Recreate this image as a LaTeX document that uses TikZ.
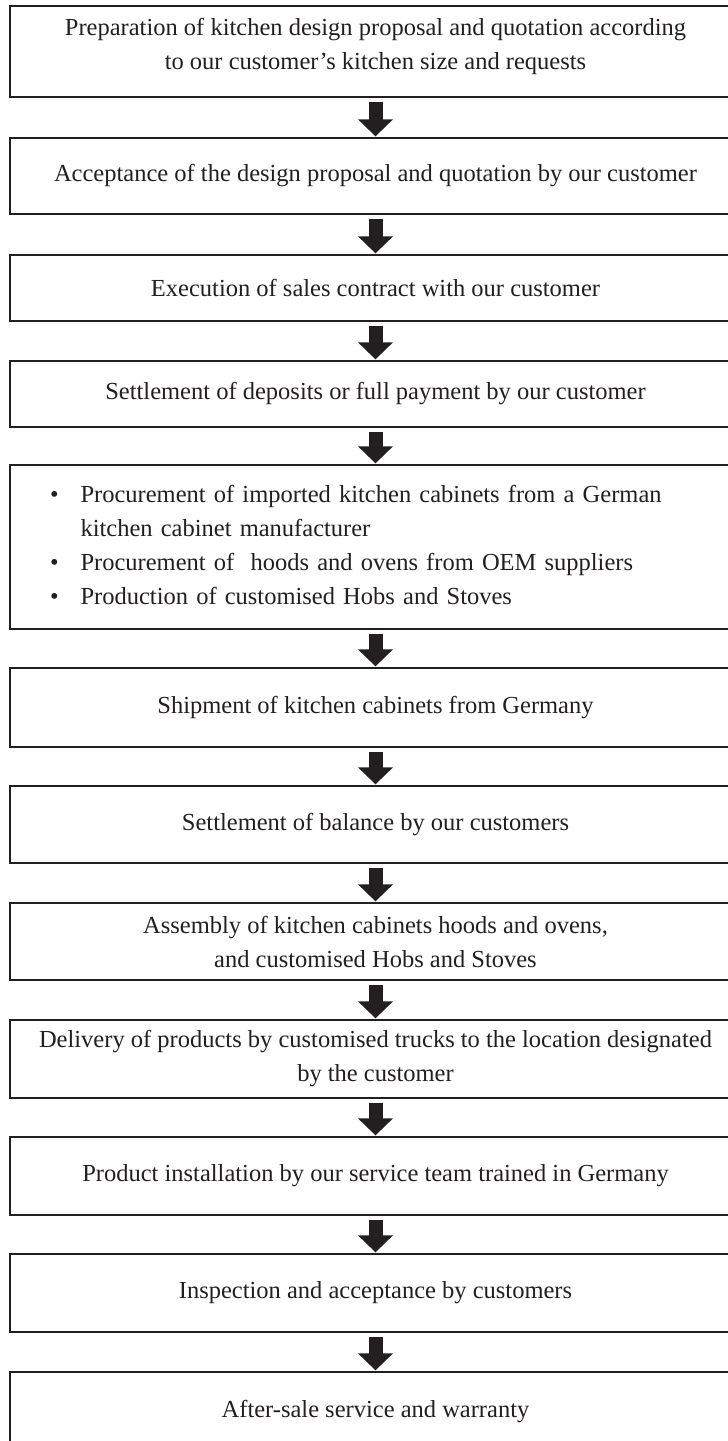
\documentclass[tikz,border=0pt]{standalone}
\usepackage{fontspec}
\setmainfont{Liberation Serif}
\usetikzlibrary{arrows.meta}
\definecolor{ink}{HTML}{231F20}

\tikzset{
  stepbox/.style={draw=ink, line width=1.3pt, rectangle, minimum width=731pt,
    inner sep=0pt, align=center, text=ink,
    font=\fontsize{24.5}{34}\selectfont},
  flowarrow/.style={draw=ink, line width=14pt,
    -{Triangle[width=34pt,length=17pt]}, shorten <=4pt, shorten >=1pt}
}

\begin{document}
\begin{tikzpicture}[x=1pt, y=-1pt]
  \useasboundingbox (0,0) rectangle (728,1441);

  \node[stepbox, minimum height=91pt, text depth=16pt] (b1) at (375.5,51.5)
    {Preparation of kitchen design proposal and quotation according\\
     to our customer's kitchen size and requests};
  \node[stepbox, minimum height=76pt] (b2) at (375.5,176)
    {Acceptance of the design proposal and quotation by our customer};
  \node[stepbox, minimum height=66pt] (b3) at (375.5,288)
    {Execution of sales contract with our customer};
  \node[stepbox, minimum height=66pt] (b4) at (375.5,394)
    {Settlement of deposits or full payment by our customer};
  \node[stepbox, minimum height=164pt, text width=651pt, align=left,
        inner xsep=40pt] (b5) at (375.5,547)
    {\begin{tabular}{@{}l@{\hspace{22pt}}l@{}}
       \textbullet & Procurement of imported kitchen cabinets from a German\\
                   & kitchen cabinet manufacturer\\
       \textbullet & Procurement of \ hoods and ovens from OEM suppliers\\
       \textbullet & Production of customised Hobs and Stoves
     \end{tabular}};
  \node[stepbox, minimum height=79pt] (b6) at (375.5,707.5)
    {Shipment of kitchen cabinets from Germany};
  \node[stepbox, minimum height=77pt] (b7) at (375.5,824.5)
    {Settlement of balance by our customers};
  \node[stepbox, minimum height=77pt] (b8) at (375.5,941.5)
    {Assembly of kitchen cabinets hoods and ovens,\\
     and customised Hobs and Stoves};
  \node[stepbox, minimum height=78pt] (b9) at (375.5,1059)
    {Delivery of products by customised trucks to the location designated\\
     by the customer};
  \node[stepbox, minimum height=78pt] (b10) at (375.5,1176)
    {Product installation by our service team trained in Germany};
  \node[stepbox, minimum height=78pt] (b11) at (375.5,1293)
    {Inspection and acceptance by customers};
  \node[stepbox, minimum height=78pt] (b12) at (375.5,1411)
    {After-sale service and warranty};

  \foreach \a/\b in {b1/b2,b2/b3,b3/b4,b4/b5,b5/b6,b6/b7,b7/b8,b8/b9,b9/b10,b10/b11,b11/b12}
    \draw[flowarrow] (\a.south) -- (\b.north);
\end{tikzpicture}
\end{document}
